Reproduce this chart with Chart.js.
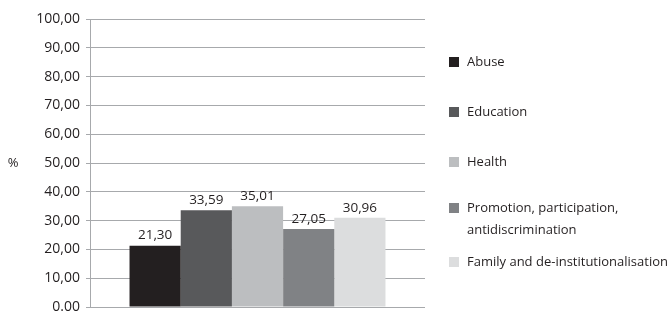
<!DOCTYPE html>
<html>
<head>
<meta charset="utf-8">
<script src="https://cdn.jsdelivr.net/npm/chart.js@4"></script>
<style>
  html, body { margin: 0; padding: 0; background: #ffffff; }
  #wrap { position: relative; width: 669px; height: 313px; }
</style>
</head>
<body>
<div id="wrap"><canvas id="chart" width="669" height="313"></canvas></div>
<script>
// Data
const categories = ["Abuse", "Education", "Health", ["Promotion, participation,", "antidiscrimination"], "Family and de-institutionalisation"];
const values = [21.30, 33.59, 35.01, 27.05, 30.96];
const valueLabels = ["21,30", "33,59", "35,01", "27,05", "30,96"];
const barColors = ["#231f20", "#58595b", "#bcbec0", "#808285", "#dcddde"];
const yTickLabels = ["0.00", "10,00", "20,00", "30,00", "40,00", "50,00", "60,00", "70,00", "80,00", "90,00", "100,00"];
const yTitle = "%";

const textColor = "#231f20";
const gridColor = "#a7a9ac";
const fontFamily = "'Open Sans', sans-serif";

// Value labels above each bar
const valueLabelPlugin = {
    id: "valueLabels",
    afterDatasetsDraw(chart) {
        const ctx = chart.ctx;
        ctx.save();
        ctx.font = "13.5px " + fontFamily;
        ctx.fillStyle = textColor;
        ctx.textAlign = "center";
        ctx.textBaseline = "middle";
        chart.data.datasets.forEach((ds, i) => {
            const bar = chart.getDatasetMeta(i).data[0];
            ctx.fillText(valueLabels[i], bar.x, bar.y - 10);
        });
        ctx.restore();
    }
};

// Legend on the right and the "%" title on the left
const sideTextPlugin = {
    id: "sideText",
    afterDraw(chart) {
        const ctx = chart.ctx;
        const area = chart.chartArea;
        ctx.save();
        ctx.font = "13px " + fontFamily;
        ctx.fillStyle = textColor;
        ctx.textBaseline = "middle";
        ctx.textAlign = "center";
        ctx.fillText(yTitle, 13, (area.top + area.bottom) / 2);

        ctx.textAlign = "left";
        const markerX = area.right + 24;
        const textX = markerX + 18;
        categories.forEach((cat, i) => {
            const lines = Array.isArray(cat) ? cat : [cat];
            const y = area.top + 43 + i * 50 - (lines.length - 1) * 4;
            ctx.fillStyle = barColors[i];
            ctx.fillRect(markerX, y - 5, 10, 10);
            ctx.fillStyle = textColor;
            lines.forEach((line, j) => ctx.fillText(line, textX, y + j * 22));
        });
        ctx.restore();
    }
};

new Chart(document.getElementById("chart"), {
    type: "bar",
    data: {
        labels: [""],
        datasets: categories.map((cat, i) => ({
            label: Array.isArray(cat) ? cat.join(" ") : cat,
            data: [values[i]],
            backgroundColor: barColors[i],
            borderWidth: 0,
            barPercentage: 1,
            categoryPercentage: 0.764
        }))
    },
    options: {
        responsive: false,
        animation: false,
        layout: { padding: { left: 0, top: 19, right: 244, bottom: 6 } },
        plugins: {
            legend: { display: false },
            tooltip: { enabled: false }
        },
        scales: {
            x: { display: false },
            y: {
                min: 0,
                max: 100,
                ticks: {
                    stepSize: 10,
                    padding: 6,
                    color: textColor,
                    font: { family: fontFamily, size: 14 },
                    callback: (v, i) => yTickLabels[i]
                },
                grid: { color: gridColor, lineWidth: 1, tickLength: 4 },
                border: { color: gridColor, width: 1 },
                afterFit(scale) {
                    scale.width = 90;
                    scale.paddingTop = 0;
                    scale.paddingBottom = 0;
                }
            }
        }
    },
    plugins: [valueLabelPlugin, sideTextPlugin]
});
</script>
</body>
</html>
